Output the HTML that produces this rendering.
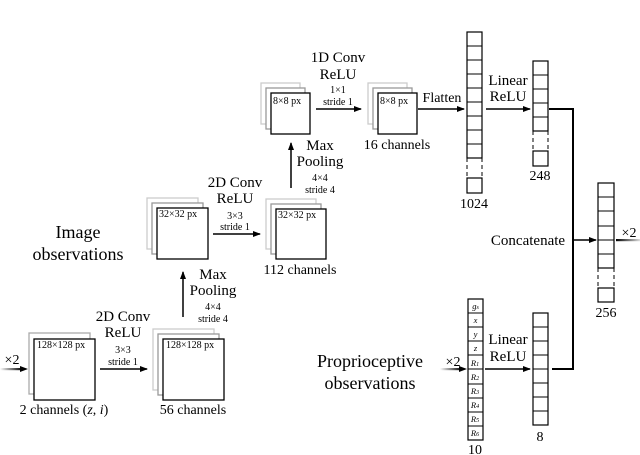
<!DOCTYPE html>
<html><head><meta charset="utf-8"><style>
html,body{margin:0;padding:0;background:#fff;}
svg{display:block;font-family:"Liberation Serif",serif;}
</style></head><body>
<svg width="640" height="455" viewBox="0 0 640 455" xmlns="http://www.w3.org/2000/svg">
<defs>
<marker id="ah" markerWidth="8" markerHeight="6" refX="7" refY="3" orient="auto" markerUnits="userSpaceOnUse">
<path d="M0,0 L8,3 L0,6 Z" fill="#000"/></marker>
<linearGradient id="gin" x1="0" x2="1" y1="0" y2="0"><stop offset="0" stop-color="#fff"/><stop offset="1" stop-color="#000"/></linearGradient>
<linearGradient id="gout" x1="0" x2="1" y1="0" y2="0"><stop offset="0" stop-color="#000"/><stop offset="1" stop-color="#ddd"/></linearGradient>
</defs>
<g fill="#fff" stroke-width="1.3">
<rect x="29" y="333" width="61" height="61" stroke="#aaa"/>
<rect x="34" y="339" width="61" height="61" stroke="#000"/>
<rect x="153" y="329" width="61" height="61" stroke="#ccc"/>
<rect x="158" y="334" width="61" height="61" stroke="#999"/>
<rect x="163" y="339" width="61" height="61" stroke="#000"/>
<rect x="147" y="198" width="51" height="51" stroke="#ccc"/>
<rect x="152" y="203" width="51" height="51" stroke="#999"/>
<rect x="157" y="208" width="51" height="51" stroke="#000"/>
<rect x="266" y="199" width="50" height="50" stroke="#ccc"/>
<rect x="271" y="204" width="50" height="50" stroke="#999"/>
<rect x="276" y="209" width="50" height="50" stroke="#000"/>
<rect x="261" y="83" width="39" height="41" stroke="#ccc"/>
<rect x="266" y="88" width="39" height="41" stroke="#999"/>
<rect x="271" y="93" width="39" height="41" stroke="#000"/>
<rect x="368" y="83" width="39" height="41" stroke="#ccc"/>
<rect x="373" y="88" width="39" height="41" stroke="#999"/>
<rect x="378" y="93" width="39" height="41" stroke="#000"/>
</g>
<g font-size="10" fill="#000">
<text x="37" y="348">128×128 px</text>
<text x="166" y="348">128×128 px</text>
<text x="159" y="217">32×32 px</text>
<text x="278" y="218">32×32 px</text>
<text x="273" y="104">8×8 px</text>
<text x="380" y="104">8×8 px</text>
</g>
<g stroke="#000" stroke-width="1.5" fill="none">
<line x1="100" y1="369" x2="147" y2="369" marker-end="url(#ah)"/>
<line x1="183" y1="317" x2="183" y2="272" marker-end="url(#ah)"/>
<line x1="213" y1="234" x2="260" y2="234" marker-end="url(#ah)"/>
<line x1="291" y1="188" x2="291" y2="143" marker-end="url(#ah)"/>
<line x1="316" y1="109" x2="361" y2="109" marker-end="url(#ah)"/>
<line x1="418" y1="109" x2="464" y2="109" marker-end="url(#ah)"/>
<line x1="486" y1="109" x2="530" y2="109" marker-end="url(#ah)"/>
<line x1="485" y1="369" x2="530" y2="369" marker-end="url(#ah)"/>
<polyline points="549,109 573,109 573,369 552,369" stroke-width="2"/>
<line x1="573" y1="240" x2="596" y2="240" marker-end="url(#ah)"/>
</g>
<rect x="0" y="368" width="22" height="2.2" fill="url(#gin)"/>
<path d="M20,366 L28,369 L20,372 Z" fill="#000"/>
<rect x="440" y="368" width="22" height="2.2" fill="url(#gin)"/>
<path d="M459,366 L467,369 L459,372 Z" fill="#000"/>
<rect x="616" y="239" width="24" height="2.2" fill="url(#gout)"/>
<g fill="#fff" stroke="#000" stroke-width="1.2">
<rect x="467" y="32" width="15" height="126"/>
<rect x="467" y="178" width="15" height="15"/>
<rect x="533" y="61" width="15" height="70"/>
<rect x="533" y="151" width="15" height="15"/>
<rect x="598" y="183" width="16" height="85"/>
<rect x="598" y="288" width="16" height="14"/>
<rect x="468" y="299" width="15" height="141"/>
<rect x="533" y="313" width="15" height="112"/>
</g>
<g stroke="#000" stroke-width="1">
<path d="M467,46h15M467,60h15M467,74h15M467,88h15M467,102h15M467,116h15M467,130h15M467,144h15"/>
<path d="M533,75h15M533,89h15M533,103h15M533,117h15"/>
<path d="M598,197h16M598,211h16M598,226h16M598,240h16M598,254h16"/>
<path d="M468,313h15M468,327h15M468,341h15M468,355h15M468,369h15M468,384h15M468,398h15M468,412h15M468,426h15"/>
<path d="M533,327h15M533,341h15M533,355h15M533,369h15M533,383h15M533,397h15M533,411h15"/>
<path d="M467,158v20M482,158v20M533,131v20M548,131v20M598,268v20M614,268v20" stroke-dasharray="4,3"/>
</g>
<g font-size="8.5" font-style="italic" text-anchor="middle">
<text x="475.5" y="309">g<tspan font-size="6">s</tspan></text>
<text x="475.5" y="323">x</text>
<text x="475.5" y="337">y</text>
<text x="475.5" y="351">z</text>
<text x="475" y="366">R<tspan font-size="6">1</tspan></text>
<text x="475" y="380">R<tspan font-size="6">2</tspan></text>
<text x="475" y="394">R<tspan font-size="6">3</tspan></text>
<text x="475" y="408">R<tspan font-size="6">4</tspan></text>
<text x="475" y="422">R<tspan font-size="6">5</tspan></text>
<text x="475" y="436">R<tspan font-size="6">6</tspan></text>
</g>
<g font-size="14" text-anchor="middle">
<text x="64" y="414">2 channels (<tspan font-style="italic">z</tspan>, <tspan font-style="italic">i</tspan>)</text>
<text x="193" y="414">56 channels</text>
<text x="300" y="274">112 channels</text>
<text x="397" y="149">16 channels</text>
<text x="442" y="102">Flatten</text>
<text x="474" y="208">1024</text>
<text x="540" y="180">248</text>
<text x="606" y="317">256</text>
<text x="475" y="454">10</text>
<text x="540" y="441">8</text>
<text x="123" y="321" font-size="15">2D Conv</text>
<text x="123" y="337" font-size="15">ReLU</text>
<text x="213" y="279" font-size="15">Max</text>
<text x="213" y="295" font-size="15">Pooling</text>
<text x="235" y="187" font-size="15">2D Conv</text>
<text x="235" y="203" font-size="15">ReLU</text>
<text x="320" y="150" font-size="15">Max</text>
<text x="320" y="166" font-size="15">Pooling</text>
<text x="338" y="62" font-size="15">1D Conv</text>
<text x="338" y="79" font-size="15">ReLU</text>
<text x="508" y="85" font-size="15">Linear</text>
<text x="508" y="101" font-size="15">ReLU</text>
<text x="508" y="344" font-size="15">Linear</text>
<text x="508" y="361" font-size="15">ReLU</text>
<text x="528" y="245" font-size="15">Concatenate</text>
<text x="78" y="238" font-size="18">Image</text>
<text x="78" y="260" font-size="18">observations</text>
<text x="370" y="367" font-size="18">Proprioceptive</text>
<text x="370" y="389" font-size="18">observations</text>
<text x="12" y="364" font-size="14">×2</text>
<text x="453" y="366" font-size="14">×2</text>
<text x="629" y="237" font-size="14">×2</text>
</g>
<g font-size="10" text-anchor="middle">
<text x="123" y="353">3×3</text>
<text x="123" y="365">stride 1</text>
<text x="213" y="310">4×4</text>
<text x="213" y="322">stride 4</text>
<text x="235" y="219">3×3</text>
<text x="235" y="230">stride 1</text>
<text x="320" y="181">4×4</text>
<text x="320" y="193">stride 4</text>
<text x="338" y="93">1×1</text>
<text x="338" y="105">stride 1</text>
</g>
</svg>
</body></html>
